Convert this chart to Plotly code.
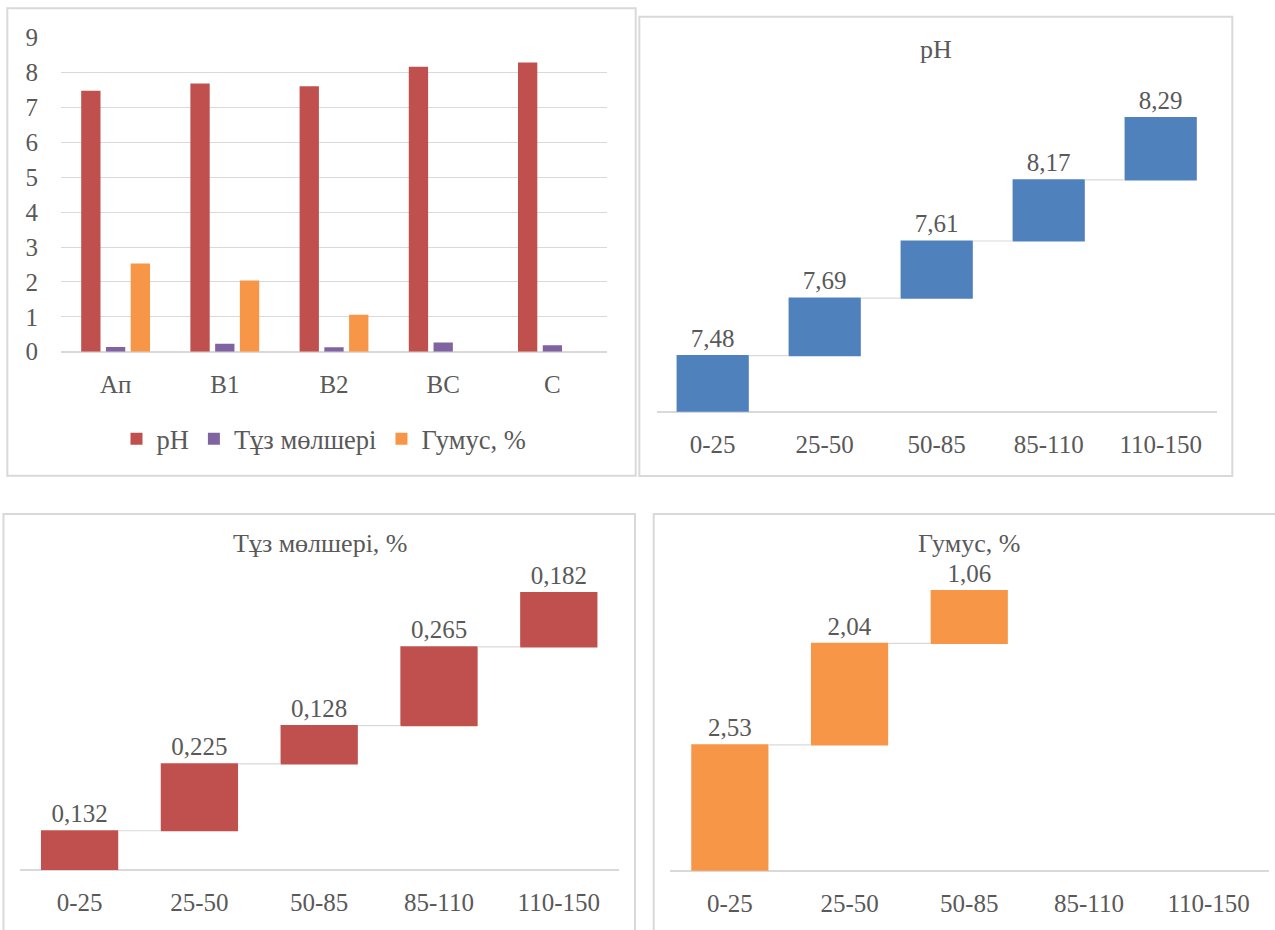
import plotly.graph_objects as go

# ---------------- data ----------------
horizons = ["Ап", "В1", "В2", "ВС", "С"]
depths = ["0-25", "25-50", "50-85", "85-110", "110-150"]
ph_values = [7.48, 7.69, 7.61, 8.17, 8.29]
salt_values = [0.132, 0.225, 0.128, 0.265, 0.182]
humus_values = [2.53, 2.04, 1.06, None, None]

series_names = ["pH", "Тұз мөлшері", "Гумус, %"]
panel_titles = ["pH", "Тұз мөлшері, %", "Гумус, %"]

# ---------------- style ----------------
C_RED = "#C0504D"
C_PURPLE = "#8064A2"
C_ORANGE = "#F79646"
C_BLUE = "#4F81BD"
TXT = "#595959"
GRID = "#D9D9D9"
FONT = "'Liberation Serif', Tinos, 'Times New Roman', 'DejaVu Serif', serif"

W, H = 1275, 930


def fx(px):
    return px / W


def fy(py):
    return 1 - py / H


def fmt(v, nd):
    return f"{v:.{nd}f}".replace(".", ",")


fig = go.Figure()

for name, vals, col in zip(series_names, [ph_values, salt_values, humus_values],
                           [C_RED, C_PURPLE, C_ORANGE]):
    fig.add_trace(go.Bar(x=horizons, y=vals, name=name, marker=dict(color=col, line=dict(width=0)),
                         xaxis="x", yaxis="y"))


def add_wf(cats, vals, nd, col, ax):
    xs = [c for c, v in zip(cats, vals) if v is not None]
    ys = [v for v in vals if v is not None]
    fig.add_trace(go.Waterfall(
        x=xs, y=ys, measure=["relative"] * len(ys),
        text=[fmt(v, nd) for v in ys], textposition="outside",
        textfont=dict(family=FONT, size=25, color=TXT),
        increasing=dict(marker=dict(color=col, line=dict(width=0))),
        decreasing=dict(marker=dict(color=col, line=dict(width=0))),
        connector=dict(line=dict(color=GRID, width=1.2), mode="between"),
        cliponaxis=False, showlegend=False,
        xaxis="x" + ax, yaxis="y" + ax))


add_wf(depths, ph_values, 2, C_BLUE, "2")
add_wf(depths, salt_values, 3, C_RED, "3")
add_wf(depths, humus_values, 2, C_ORANGE, "4")

tickfont = dict(family=FONT, size=25, color=TXT)

cat_axis = dict(type="category", showgrid=False, zeroline=False, showline=False,
                ticks="", tickfont=tickfont, ticklabelstandoff=15, fixedrange=True,
                automargin=False)
hidden_y = dict(showgrid=False, showticklabels=False, showline=False, ticks="",
                zeroline=True, zerolinecolor=GRID, zerolinewidth=1.5, fixedrange=True,
                automargin=False)

layout = dict(
    width=W, height=H,
    margin=dict(l=0, r=0, t=0, b=0, pad=0, autoexpand=False),
    paper_bgcolor="white", plot_bgcolor="white",
    font=dict(family=FONT, color=TXT),
    barmode="group", bargap=0.32, bargroupgap=0.22,
    waterfallgap=0.355,
    showlegend=True,
    legend=dict(orientation="h", x=fx(324), xanchor="center", y=fy(439), yanchor="middle",
                font=dict(family=FONT, size=26.5, color=TXT), itemwidth=30,
                bgcolor="rgba(0,0,0,0)", tracegroupgap=0),
    xaxis=dict(cat_axis, domain=[fx(61), fx(607)], anchor="y", categoryorder="array",
               categoryarray=horizons),
    yaxis=dict(domain=[fy(351.7), fy(37.7)], anchor="x", range=[0, 9], dtick=1,
               showgrid=True, gridcolor=GRID, gridwidth=1.2, zeroline=True,
               zerolinecolor=GRID, zerolinewidth=1.5, showline=False, ticks="",
               tickfont=tickfont, ticklabelstandoff=22, fixedrange=True, automargin=False),
    xaxis2=dict(cat_axis, domain=[fx(656.7), fx(1216.7)], anchor="y2",
                categoryorder="array", categoryarray=depths, range=[-0.5, 4.5]),
    yaxis2=dict(hidden_y, domain=[fy(411.7), fy(80)], anchor="x2",
                range=[0, sum(ph_values) * (411.7 - 80) / 294.0]),
    xaxis3=dict(cat_axis, domain=[fx(19.7), fx(618.7)], anchor="y3",
                categoryorder="array", categoryarray=depths, range=[-0.5, 4.5]),
    yaxis3=dict(hidden_y, domain=[fy(870), fy(570)], anchor="x3",
                range=[0, sum(salt_values) * (870 - 570) / 277.3]),
    xaxis4=dict(cat_axis, domain=[fx(670), fx(1268.5)], anchor="y4",
                categoryorder="array", categoryarray=depths, range=[-0.5, 4.5]),
    yaxis4=dict(hidden_y, domain=[fy(870.7), fy(570)], anchor="x4",
                range=[0, sum(v for v in humus_values if v) * (870.7 - 570) / 280.0]),
)
fig.update_layout(**layout)

title_pos = [(936, 49), (320, 543), (968.7, 543)]
for t, (px, py) in zip(panel_titles, title_pos):
    fig.add_annotation(text=t, x=fx(px), y=fy(py), xref="paper", yref="paper",
                       xanchor="center", yanchor="middle", showarrow=False,
                       font=dict(family=FONT, size=26, color=TXT))

frames = [(7.3, 8.3, 635.7, 475.7), (639.3, 16.7, 1232.3, 476),
          (3.5, 514, 635, 940), (653.7, 514, 1290, 940)]
for x0, y0, x1, y1 in frames:
    fig.add_shape(type="rect", xref="paper", yref="paper",
                  x0=fx(x0), x1=fx(x1), y0=fy(y0), y1=fy(y1),
                  line=dict(color=GRID, width=2), fillcolor="rgba(0,0,0,0)", layer="below")

post = "document.documentElement.style.margin='0';document.body.style.margin='0';document.body.style.padding='0';"
fig.write_html("out.html", config={"displayModeBar": False}, post_script=post)
